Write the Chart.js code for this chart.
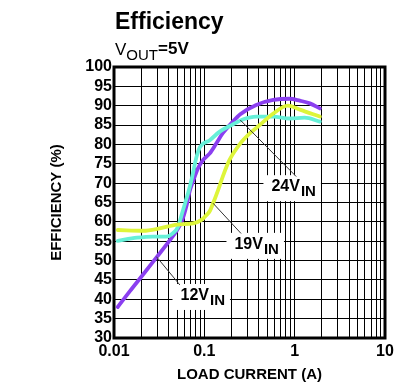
<!DOCTYPE html>
<html>
<head>
<meta charset="utf-8">
<script src="https://cdn.jsdelivr.net/npm/chart.js@4/dist/chart.umd.min.js"></script>
<style>
html,body{margin:0;padding:0;background:#fff;}
#wrap{width:409px;height:392px;position:relative;}
</style>
</head>
<body>
<div id="wrap"><canvas id="c" width="409" height="392"></canvas></div>
<script>
// ---- data ----
const current12 = [0.011, 0.015, 0.021, 0.03, 0.042, 0.05, 0.056, 0.064, 0.069, 0.075, 0.085, 0.097, 0.115, 0.136, 0.16, 0.2, 0.25, 0.375, 0.58, 0.88, 1.14, 1.47, 1.9];
const eff12     = [38, 42.1, 46.4, 51.0, 55.4, 57.9, 60, 64.5, 68, 70.5, 73.8, 76, 77.7, 80.3, 82.9, 85.5, 87.8, 90.2, 91.5, 91.8, 91.3, 90.6, 89.3];

const current19 = [0.011, 0.021, 0.032, 0.05, 0.075, 0.093, 0.106, 0.115, 0.125, 0.142, 0.16, 0.19, 0.247, 0.32, 0.41, 0.58, 0.84, 1.14, 1.9];
const eff19     = [57.9, 57.7, 58.3, 59.3, 59.6, 60.5, 61.8, 62.8, 64.8, 68.2, 71.7, 76, 80.1, 82.9, 85, 88, 90, 89, 87.2];

const current24 = [0.011, 0.018, 0.027, 0.038, 0.045, 0.051, 0.058, 0.066, 0.072, 0.082, 0.09, 0.115, 0.148, 0.2, 0.27, 0.375, 0.58, 0.88, 1.29, 1.9];
const eff24     = [55.1, 55.9, 56.2, 56.2, 57.1, 58.7, 63, 67.4, 70.8, 76.8, 79.4, 81.1, 83.3, 85, 86.5, 87.2, 87.2, 86.7, 86.9, 85.9];

const seriesNames = ['12V', '19V', '24V'];
const xDecadeLabels = ['0.01', '0.1', '1', '10'];
const yTickValues = [30,35,40,45,50,55,60,65,70,75,80,85,90,95,100];

const titleText = 'Efficiency';
const xTitle = 'LOAD CURRENT (A)';
const yTitle = 'EFFICIENCY (%)';

// callouts: label anchor (data coords), leader start on curve, leader end
const callouts = [
  {name: '24V', lx: 0.975, ly: 68.7, from: [0.25, 86.3], to: [1.04, 71.7]},
  {name: '19V', lx: 0.38, ly: 53.8, from: [0.125, 64.8], to: [0.255, 57.0]},
  {name: '12V', lx: 0.096, ly: 40.6, from: [0.0295, 51.0], to: [0.0536, 43.7]}
];

const FONT = '"Liberation Sans", Arial, sans-serif';

function pts(xs, ys){ return xs.map((x,i)=>({x:x, y:ys[i]})); }

// all log grid values 0.01..10
const xGrid = [];
[0.01, 0.1, 1].forEach(d => { for (let k=1;k<=9;k++) xGrid.push(+(d*k).toPrecision(3)); });
xGrid.push(10);

const overlay = {
  id: 'overlay',
  afterDatasetsDraw(chart){
    const ctx = chart.ctx, xs = chart.scales.x, ys = chart.scales.y, a = chart.chartArea;
    ctx.save();
    // callouts
    callouts.forEach(c => {
      const cx = xs.getPixelForValue(c.lx), cy = ys.getPixelForValue(c.ly);
      ctx.font = 'bold 16px ' + FONT;
      const w1 = ctx.measureText(c.name).width;
      ctx.font = 'bold 15px ' + FONT;
      const w2 = ctx.measureText('IN').width;
      const tw = w1 + 1 + w2;
      ctx.fillStyle = '#fff';
      ctx.fillRect(cx - tw/2 - 8, cy - 13, tw + 13, 26);
      // leader
      ctx.strokeStyle = '#333';
      ctx.lineWidth = 1;
      ctx.beginPath();
      ctx.moveTo(xs.getPixelForValue(c.from[0]), ys.getPixelForValue(c.from[1]));
      ctx.lineTo(xs.getPixelForValue(c.to[0]), ys.getPixelForValue(c.to[1]));
      ctx.stroke();
      ctx.fillStyle = '#000';
      ctx.textBaseline = 'alphabetic';
      ctx.textAlign = 'left';
      ctx.font = 'bold 16px ' + FONT;
      ctx.fillText(c.name, cx - tw/2, cy + 3);
      ctx.font = 'bold 15px ' + FONT;
      ctx.fillText('IN', cx - tw/2 + w1 + 1, cy + 8);
    });
    // frame
    ctx.strokeStyle = '#000';
    ctx.lineWidth = 3;
    ctx.strokeRect(a.left, a.top, a.right - a.left, a.bottom - a.top);
    // title and subtitle
    ctx.fillStyle = '#000';
    ctx.textAlign = 'left';
    ctx.textBaseline = 'alphabetic';
    ctx.font = 'bold 23px ' + FONT;
    ctx.fillText(titleText, 115, 29);
    ctx.font = '17px ' + FONT;
    ctx.fillText('V', 115, 55);
    let x = 115 + ctx.measureText('V').width;
    ctx.font = '15px ' + FONT;
    ctx.fillText('OUT', x, 60);
    x += ctx.measureText('OUT').width;
    ctx.font = 'bold 17px ' + FONT;
    ctx.fillText('=5V', x, 54);
    ctx.restore();
  }
};

new Chart(document.getElementById('c'), {
  type: 'line',
  data: {
    datasets: [
      {label: seriesNames[0], data: pts(current12, eff12), borderColor: '#8b3ff0', order: 3},
      {label: seriesNames[1], data: pts(current19, eff19), borderColor: '#def53a', order: 1},
      {label: seriesNames[2], data: pts(current24, eff24), borderColor: '#66f0d8', order: 2}
    ]
  },
  options: {
    responsive: false,
    animation: false,
    devicePixelRatio: 1,
    layout: {padding: {left: 0, right: 24, top: 67, bottom: 0}},
    elements: {
      line: {borderWidth: 3.8, cubicInterpolationMode: 'monotone', fill: false, borderCapStyle: 'round', borderJoinStyle: 'round'},
      point: {radius: 0}
    },
    plugins: {legend: {display: false}, tooltip: {enabled: false}, title: {display: false}},
    scales: {
      x: {
        type: 'logarithmic',
        min: 0.01, max: 10,
        afterBuildTicks(s){ s.ticks = xGrid.map(v => ({value: v})); },
        afterFit(s){ s.height = 54; },
        ticks: {
          autoSkip: false, maxRotation: 0, padding: 4, color: '#000',
          font: {family: FONT, size: 16, weight: 'bold'},
          callback(v){ const i = [0.01,0.1,1,10].findIndex(d => Math.abs(d - v) < 1e-9); return i >= 0 ? xDecadeLabels[i] : ''; }
        },
        grid: {color: '#000', lineWidth: 1, drawTicks: false},
        border: {display: false},
        title: {display: true, text: xTitle, color: '#000', font: {family: FONT, size: 15, weight: 'bold'}, padding: {top: 0, bottom: 8}}
      },
      y: {
        type: 'linear',
        min: 30, max: 100,
        afterBuildTicks(s){ s.ticks = yTickValues.map(v => ({value: v})); },
        afterFit(s){ s.width = 114; },
        ticks: {
          autoSkip: false, padding: 2, color: '#000',
          font: {family: FONT, size: 16, weight: 'bold'}
        },
        grid: {color: '#000', lineWidth: 1, drawTicks: false},
        border: {display: false},
        title: {display: true, text: yTitle, color: '#000', font: {family: FONT, size: 15, weight: 'bold'}, padding: {top: 48, bottom: 0}}
      }
    }
  },
  plugins: [overlay]
});
</script>
</body>
</html>
